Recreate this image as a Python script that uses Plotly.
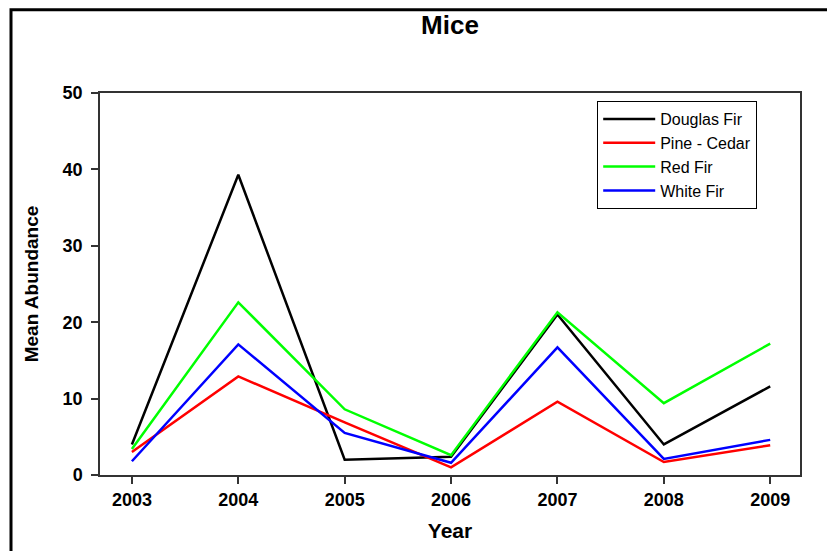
import plotly.graph_objects as go

years = [2003, 2004, 2005, 2006, 2007, 2008, 2009]

douglas_fir = [4.0, 39.3, 2.0, 2.4, 21.0, 4.0, 11.6]
pine_cedar = [3.0, 12.9, 6.9, 1.0, 9.6, 1.7, 3.9]
red_fir = [3.4, 22.6, 8.6, 2.6, 21.3, 9.4, 17.2]
white_fir = [1.8, 17.1, 5.5, 1.6, 16.7, 2.1, 4.6]

y_ticks = [0, 10, 20, 30, 40, 50]

series = [
    ("Douglas Fir", douglas_fir, "#000000"),
    ("Pine - Cedar", pine_cedar, "#ff0000"),
    ("Red Fir", red_fir, "#00ff00"),
    ("White Fir", white_fir, "#0000ff"),
]

fig = go.Figure()
for name, vals, color in series:
    fig.add_trace(go.Scatter(
        x=years, y=vals, name=name, mode="lines",
        line=dict(color=color, width=2.5)
    ))

axis_font = dict(family="Liberation Sans, Arial, sans-serif", size=18, color="black")

# figure is 8px smaller than the window: the html body keeps its default
# 8px margin, so this keeps the page from overflowing
W, H = 827, 543
L, T, R, B = 92, 85, 35, 70
PW, PH = W - L - R, H - T - B

fig.update_layout(
    width=W, height=H,
    margin=dict(l=L, r=R, t=T, b=B),
    paper_bgcolor="white", plot_bgcolor="white",
    font=dict(family="Liberation Sans, Arial, sans-serif", color="black"),
    title=dict(
        text="<b>Mice</b>", x=0.5, xref="paper", xanchor="center",
        y=1 - 17 / H, yref="container", yanchor="middle",
        font=dict(size=26, color="black")
    ),
    xaxis=dict(
        range=[2002.7, 2009.28], tickvals=years,
        ticktext=[f"<b>{y}</b>" for y in years],
        showgrid=False, zeroline=False,
        showline=True, linecolor="#333", linewidth=1.5, mirror=True,
        ticks="outside", ticklen=7, tickwidth=1.5, tickcolor="#333",
        tickfont=axis_font, ticklabelstandoff=1,
        title=dict(text="<b>Year</b>", font=dict(size=21), standoff=14),
    ),
    yaxis=dict(
        range=[0, 50], tickvals=y_ticks,
        ticktext=[f"<b>{v}</b>" for v in y_ticks],
        showgrid=False, zeroline=False,
        showline=True, linecolor="#333", linewidth=1.5, mirror=True,
        ticks="outside", ticklen=7, tickwidth=1.5, tickcolor="#333",
        tickfont=axis_font, ticklabelstandoff=5,
        title=dict(text="<b>Mean Abundance</b>", font=dict(size=19), standoff=19),
    ),
    legend=dict(
        x=(589 - L) / PW, xanchor="left",
        y=(H - B - 93) / PH, yanchor="top",
        bgcolor="white", bordercolor="#000", borderwidth=1.2,
        font=dict(size=16, color="black"),
        itemwidth=52,
        tracegroupgap=0,
    ),
    showlegend=True,
)

# outer frame around the whole graphic (right and bottom edges fall outside)
fig.add_shape(
    type="rect", xref="paper", yref="paper",
    x0=(3 - L) / PW, x1=(W + 20 - L) / PW,
    y0=(H - B - 0.5) / PH, y1=(H - B - H - 20) / PH,
    line=dict(color="black", width=3), layer="below"
)

fig.write_html("out.html", config={"displayModeBar": False})
